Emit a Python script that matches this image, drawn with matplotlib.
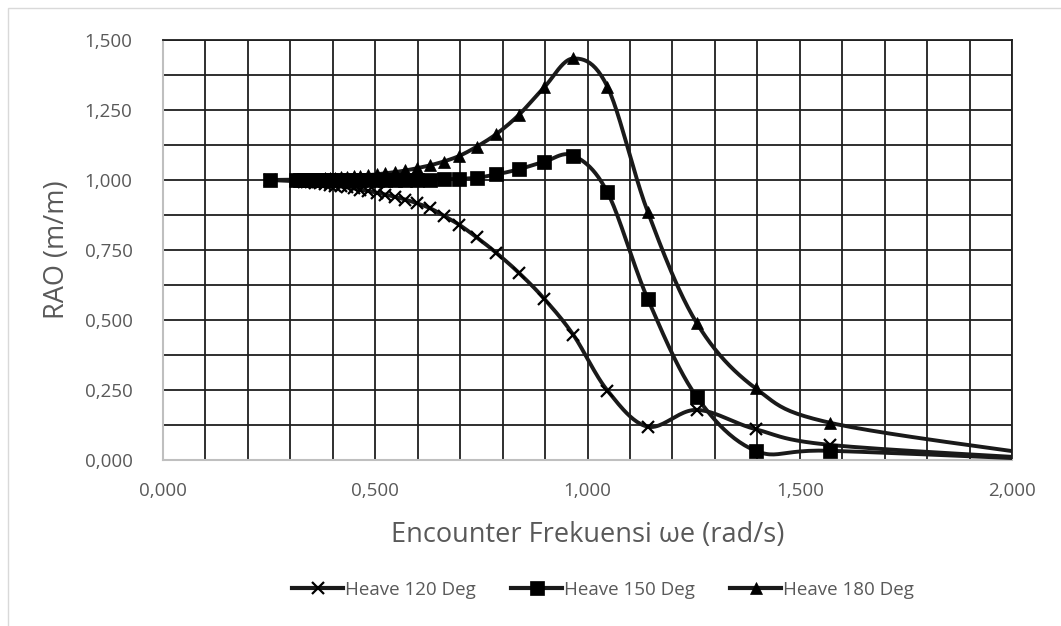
import numpy as np
import matplotlib.pyplot as plt
from matplotlib.lines import Line2D
from matplotlib.patches import Rectangle
from matplotlib.ticker import MultipleLocator, FuncFormatter

plt.rcParams['font.family'] = ['Open Sans', 'DejaVu Sans']

# encounter frequency (rad/s)
omega = [0.251, 0.314, 0.322, 0.331, 0.340, 0.349, 0.359, 0.370, 0.381, 0.393,
         0.405, 0.419, 0.433, 0.449, 0.465, 0.483, 0.503, 0.524, 0.546, 0.571,
         0.598, 0.628, 0.661, 0.698, 0.739, 0.785, 0.838, 0.898, 0.967, 1.047,
         1.142, 1.257, 1.396, 1.571, 2.094]

heave_120 = [1.000, 0.996, 0.995, 0.994, 0.993, 0.992, 0.990, 0.988, 0.986, 0.983,
             0.980, 0.977, 0.974, 0.970, 0.966, 0.961, 0.955, 0.948, 0.940, 0.930,
             0.917, 0.900, 0.873, 0.840, 0.795, 0.740, 0.669, 0.576, 0.446, 0.248,
             0.119, 0.179, 0.110, 0.054, 0.003]

heave_150 = [1.000, 0.999, 0.999, 0.999, 0.999, 0.999, 0.999, 0.999, 0.999, 0.999,
             0.999, 0.999, 0.999, 0.999, 0.999, 0.999, 0.999, 0.999, 0.999, 1.000,
             1.000, 1.001, 1.002, 1.004, 1.008, 1.020, 1.038, 1.065, 1.087, 0.956,
             0.575, 0.226, 0.033, 0.033, 0.001]

heave_180 = [1.000, 1.001, 1.002, 1.002, 1.003, 1.003, 1.004, 1.005, 1.006, 1.007,
             1.008, 1.009, 1.011, 1.013, 1.015, 1.017, 1.020, 1.024, 1.028, 1.034,
             1.042, 1.052, 1.066, 1.086, 1.119, 1.164, 1.232, 1.331, 1.434, 1.333,
             0.886, 0.490, 0.256, 0.133, 0.012]

labels = ['Heave 120 Deg', 'Heave 150 Deg', 'Heave 180 Deg']
markers = ['x', 's', '^']
msizes = [8, 9.5, 8.5]


def smooth(x, y, n=25):
    # Catmull-Rom style bezier, like a spreadsheet "smoothed line"
    p = np.column_stack([x, y])
    p = np.vstack([p[0], p, p[-1]])
    out = []
    t = np.linspace(0, 1, n)[:, None]
    for i in range(1, len(p) - 2):
        p0, p1, p2, p3 = p[i - 1], p[i], p[i + 1], p[i + 2]
        c1 = p1 + (p2 - p0) / 6
        c2 = p2 - (p3 - p1) / 6
        seg = ((1 - t) ** 3) * p1 + 3 * ((1 - t) ** 2) * t * c1 + 3 * (1 - t) * t ** 2 * c2 + t ** 3 * p2
        out.append(seg)
    out = np.vstack(out)
    return out[:, 0], out[:, 1]


fig = plt.figure(figsize=(10.61, 6.26), dpi=100)
# light outer chart border (left and top visible)
fig.patches.append(Rectangle((8 / 1061, -0.1), 1.2, (618 + 0.1 * 626) / 626, transform=fig.transFigure,
                             fill=False, edgecolor='#d9d9d9', linewidth=1))
ax = fig.add_axes([163 / 1061, 1 - 460 / 626, 849 / 1061, 420 / 626])

line_col = '#1a1a1a'
for ys, lab, mk, ms in zip([heave_120, heave_150, heave_180], labels, markers, msizes):
    sx, sy = smooth(omega, ys)
    ax.plot(sx, sy, color=line_col, linewidth=2.8, solid_capstyle='round', zorder=3)
    ax.plot(omega, ys, linestyle='none', marker=mk, markersize=ms, color='black',
            markeredgewidth=1.6 if mk == 'x' else 0.5, zorder=4)

ax.set_xlim(0, 2.0)
ax.set_ylim(0, 1.5)
ax.xaxis.set_major_locator(MultipleLocator(0.5))
ax.xaxis.set_minor_locator(MultipleLocator(0.1))
ax.yaxis.set_major_locator(MultipleLocator(0.25))
ax.yaxis.set_minor_locator(MultipleLocator(0.125))
fmt = FuncFormatter(lambda v, p: f'{v:.3f}'.replace('.', ','))
ax.xaxis.set_major_formatter(fmt)
ax.yaxis.set_major_formatter(fmt)
ax.grid(True, which='both', color='#1f1f1f', linewidth=1.3)
ax.set_axisbelow(True)
ax.tick_params(which='both', length=0, labelsize=13.5, colors='#595959')
ax.tick_params(axis='y', pad=22)
ax.tick_params(axis='x', pad=16)
for s in ['top', 'right']:
    ax.spines[s].set_color('#1f1f1f')
    ax.spines[s].set_linewidth(1.3)
for s in ['left', 'bottom']:
    ax.spines[s].set_color('#bfbfbf')
    ax.spines[s].set_linewidth(1.5)

ax.set_xlabel('Encounter Frekuensi ωe (rad/s)', fontsize=19.5, color='#595959', labelpad=15)
ax.set_ylabel('RAO (m/m)', fontsize=19.5, color='#595959', labelpad=10)

handles = [Line2D([], [], color=line_col, linewidth=3, marker=mk, markersize=ms,
                  markerfacecolor='black', markeredgecolor='black',
                  markeredgewidth=1.6 if mk == 'x' else 0.5)
           for mk, ms in zip(markers, msizes)]
fig.legend(handles, labels, loc='center', bbox_to_anchor=(603 / 1061, 1 - 590 / 626), ncol=3,
           frameon=False, fontsize=13.5, labelcolor='#595959', handlelength=2.7,
           handletextpad=0.1, columnspacing=1.9)

fig.savefig('out.png', dpi=100)
